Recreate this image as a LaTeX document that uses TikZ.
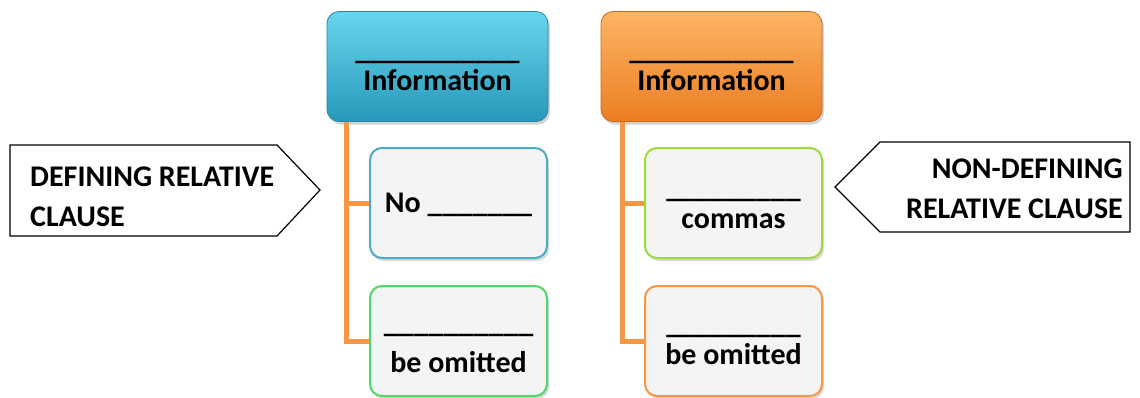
\documentclass[tikz,border=0pt]{standalone}
\usepackage{fontspec}
\setmainfont{Carlito}
\usetikzlibrary{shadows}
\definecolor{hblueT}{HTML}{66D6EE}
\definecolor{hblueB}{HTML}{2898BA}
\definecolor{hblueD}{HTML}{2A86A2}
\definecolor{horT}{HTML}{FDB464}
\definecolor{horB}{HTML}{EC7E22}
\definecolor{horD}{HTML}{C86A1A}
\definecolor{conn}{HTML}{F79646}
\definecolor{bBlue}{HTML}{4BACC6}
\definecolor{bGreen}{HTML}{4CD964}
\definecolor{bLime}{HTML}{9BDC3C}
\definecolor{bOrange}{HTML}{F79646}
\definecolor{childfill}{HTML}{F4F4F4}
\begin{document}
\begin{tikzpicture}[x=1pt,y=-1pt,
  txt/.style={font=\bfseries\fontsize{30}{31}\selectfont, text depth=0pt},
  header/.style={txt, rounded corners=12pt, minimum width=221pt, minimum height=110pt,
    draw, line width=0.8pt, align=center, text height=47pt,
    drop shadow={opacity=0.35, shadow xshift=2pt, shadow yshift=-3pt}},
  child/.style={txt, rounded corners=12pt, minimum width=177pt, minimum height=110pt,
    draw, line width=2pt, fill=childfill, align=center,
    drop shadow={opacity=0.3, shadow xshift=2pt, shadow yshift=-3pt}},
  connector/.style={conn, line width=5pt},
  tag/.style={draw=black, line width=1.2pt, fill=white},
  tagtext/.style={font=\bfseries\fontsize{30}{40}\selectfont, inner sep=0pt}]
\useasboundingbox (0,0) rectangle (1140,397);
% headers
\node[header, top color=hblueT, bottom color=hblueB, draw=hblueD] (defhead) at (437.5,66.5)
  {\_\_\_\_\_\_\_\_\_\_\_\\Information};
\node[header, top color=horT, bottom color=horB, draw=horD] (ndhead) at (711.5,66.5)
  {\_\_\_\_\_\_\_\_\_\_\_\\Information};
% children
\node[child, draw=bBlue, text height=18pt] (defno) at (458.5,203) {No \_\_\_\_\_\_\_};
\node[child, draw=bGreen, text height=62pt] (defomit) at (458.5,341) {\_\_\_\_\_\_\_\_\_\_\\[9pt] be omitted};
\node[child, draw=bLime, text height=50pt] (ndcomma) at (733.5,203) {\_\_\_\_\_\_\_\_\_\\commas};
\node[child, draw=bOrange, text height=46pt] (ndomit) at (733.5,341) {\_\_\_\_\_\_\_\_\_\\be omitted};
% connectors
\draw[connector] ([xshift=20pt]defhead.south west) |- (defno.west);
\draw[connector] ([xshift=20pt]defhead.south west) |- (defomit.west);
\draw[connector] ([xshift=22pt]ndhead.south west) |- (ndcomma.west);
\draw[connector] ([xshift=22pt]ndhead.south west) |- (ndomit.west);
% tags
\draw[tag] (10,145) -- (277,145) -- (320,190) -- (277,236) -- (10,236) -- cycle;
\node[tagtext, anchor=base west, align=left] (deftag) at (30,226) {DEFINING RELATIVE\\CLAUSE};
\draw[tag] (1130,142) -- (880,142) -- (835,187) -- (880,232) -- (1130,232) -- cycle;
\node[tagtext, anchor=base east, align=right] (ndtag) at (1123,218) {NON-DEFINING\\RELATIVE CLAUSE};
\end{tikzpicture}
\end{document}
